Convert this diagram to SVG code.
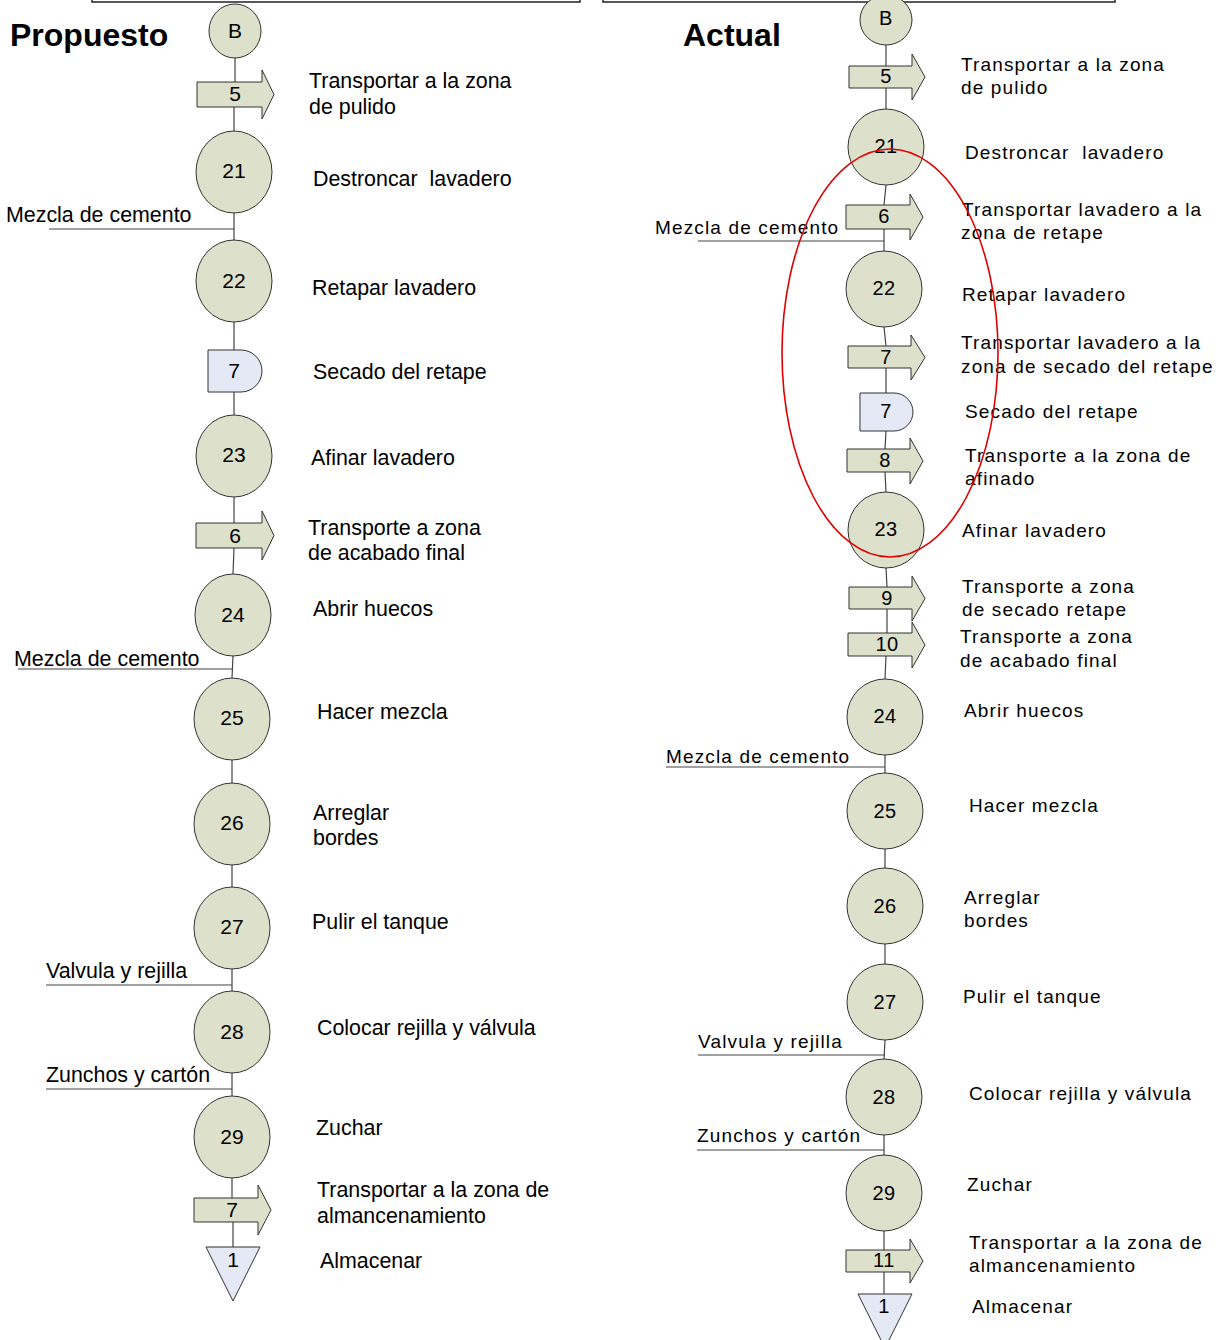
<svg xmlns="http://www.w3.org/2000/svg" width="1227" height="1340" viewBox="0 0 1227 1340">
<style>
.bg{fill:#fff}
.frame{fill:none;stroke:#222;stroke-width:1.5}
.op{fill:#dde0ca;stroke:#333;stroke-width:1}
.dl{fill:#e4e9f5;stroke:#333;stroke-width:1}
.con{fill:none;stroke:#444;stroke-width:1.2}
.num{font-family:"Liberation Sans",Arial,sans-serif;font-size:21px;fill:#000;text-anchor:middle}
.numR{font-family:"Liberation Sans",Arial,sans-serif;font-size:20px;fill:#000;text-anchor:middle;letter-spacing:0.5px}
.tL{font-family:"Liberation Sans",Arial,sans-serif;font-size:21.4px;fill:#000}
.tR{font-family:"Liberation Sans",Arial,sans-serif;font-size:19px;fill:#000;letter-spacing:1.15px}
.title{font-family:"Liberation Sans",Arial,sans-serif;font-size:32px;font-weight:bold;fill:#000}
.red{fill:none;stroke:#e00000;stroke-width:1.6}
</style>
<rect class="bg" x="0" y="0" width="1227" height="1340"/>
<rect class="frame" x="92" y="-10" width="488" height="12"/>
<rect class="frame" x="603" y="-10" width="512" height="12"/>
<text class="title" x="10" y="46">Propuesto</text>
<text class="title" x="683" y="46">Actual</text>

<g id="connectors">
<path class="con" d="M235,58 V82 M234,107 V131 M234,213 V241 M234,322 V350 M234,392 V415 M234,497 V523 M234,548 L233,574 M233,656 L232,678 M232,760 V783 M232,865 V887 M232,969 V991 M232,1073 V1096 M232,1178 V1198 M233,1222 V1247"/>
<path class="con" d="M49,229 H234 M18,669 H233 M46,985 H232 M46,1089 H232"/>
<path class="con" d="M886,45 V66 M886,88 V109 M886,185 L884,205 M884,229 V251 M884,327 L886,346 M886,368 V393 M886,431 L885,449 M885,472 L886,492 M886,568 L887,587 M887,609 V633 M886,656 L885,679 M885,755 V773 M885,849 V868 M885,944 V964 M885,1040 L884,1059 M884,1135 V1155 M884,1231 V1250 M884,1272 V1294"/>
<path class="con" d="M698,241 H884 M666,767 H885 M698,1055 H885 M697,1150 H884"/>
</g>

<g id="propuesto">
<g id="pB"><ellipse class="op" cx="235" cy="31" rx="26" ry="27"/><text class="num" x="235" y="38">B</text></g>
<g id="p5"><path class="op" d="M197,82 H262 V70 L274,94.5 L262,119 V107 H197 Z"/><text class="num" x="235" y="101">5</text></g>
<g id="p21"><ellipse class="op" cx="234" cy="172" rx="38" ry="41"/><text class="num" x="234" y="178">21</text></g>
<g id="p22"><ellipse class="op" cx="234" cy="281" rx="38" ry="41"/><text class="num" x="234" y="288">22</text></g>
<g id="p7d"><path class="dl" d="M208,350 H241 A21,21 0 0 1 241,392 H208 Z"/><text class="num" x="234" y="378">7</text></g>
<g id="p23"><ellipse class="op" cx="234" cy="456" rx="38" ry="41"/><text class="num" x="234" y="462">23</text></g>
<g id="p6"><path class="op" d="M196,523 H262 V511 L274,535.5 L262,560 V548 H196 Z"/><text class="num" x="235" y="543">6</text></g>
<g id="p24"><ellipse class="op" cx="233" cy="615" rx="38" ry="41"/><text class="num" x="233" y="622">24</text></g>
<g id="p25"><ellipse class="op" cx="232" cy="719" rx="38" ry="41"/><text class="num" x="232" y="725">25</text></g>
<g id="p26"><ellipse class="op" cx="232" cy="824" rx="38" ry="41"/><text class="num" x="232" y="830">26</text></g>
<g id="p27"><ellipse class="op" cx="232" cy="928" rx="38" ry="41"/><text class="num" x="232" y="934">27</text></g>
<g id="p28"><ellipse class="op" cx="232" cy="1032" rx="38" ry="41"/><text class="num" x="232" y="1039">28</text></g>
<g id="p29"><ellipse class="op" cx="232" cy="1137" rx="38" ry="41"/><text class="num" x="232" y="1144">29</text></g>
<g id="p7"><path class="op" d="M194,1198 H258 V1185 L271,1210 L258,1235 V1222 H194 Z"/><text class="num" x="232" y="1217">7</text></g>
<g id="p1"><path class="dl" d="M206,1247 H260 L233,1301 Z"/><text class="num" x="233" y="1267">1</text></g>

<text class="tL" x="309" y="88">Transportar a la zona</text>
<text class="tL" x="309" y="114">de pulido</text>
<text class="tL" x="313" y="186" xml:space="preserve">Destroncar  lavadero</text>
<text class="tL" x="6" y="222">Mezcla de cemento</text>
<text class="tL" x="312" y="295">Retapar lavadero</text>
<text class="tL" x="313" y="379">Secado del retape</text>
<text class="tL" x="311" y="465">Afinar lavadero</text>
<text class="tL" x="308" y="535">Transporte a zona</text>
<text class="tL" x="308" y="560">de acabado final</text>
<text class="tL" x="313" y="616">Abrir huecos</text>
<text class="tL" x="14" y="666">Mezcla de cemento</text>
<text class="tL" x="317" y="719">Hacer mezcla</text>
<text class="tL" x="313" y="820">Arreglar</text>
<text class="tL" x="313" y="845">bordes</text>
<text class="tL" x="312" y="929">Pulir el tanque</text>
<text class="tL" x="46" y="978">Valvula y rejilla</text>
<text class="tL" x="317" y="1035">Colocar rejilla y válvula</text>
<text class="tL" x="46" y="1082">Zunchos y cartón</text>
<text class="tL" x="316" y="1135">Zuchar</text>
<text class="tL" x="317" y="1197">Transportar a la zona de</text>
<text class="tL" x="317" y="1223">almancenamiento</text>
<text class="tL" x="320" y="1268">Almacenar</text>
</g>

<g id="actual">
<g id="aB"><ellipse class="op" cx="886" cy="20" rx="26" ry="25"/><text class="numR" x="886" y="25">B</text></g>
<g id="a5"><path class="op" d="M849,66 H912 V54 L925,77 L912,100 V88 H849 Z"/><text class="numR" x="886" y="83">5</text></g>
<g id="a21"><ellipse class="op" cx="886" cy="147" rx="38" ry="38"/><text class="numR" x="886" y="153">21</text></g>
<g id="a6"><path class="op" d="M846,205 H910 V194 L923,217 L910,240 V229 H846 Z"/><text class="numR" x="884" y="223">6</text></g>
<g id="a22"><ellipse class="op" cx="884" cy="289" rx="38" ry="38"/><text class="numR" x="884" y="295">22</text></g>
<g id="a7"><path class="op" d="M848,346 H911 V335 L925,357.5 L911,380 V368 H848 Z"/><text class="numR" x="886" y="364">7</text></g>
<g id="a7d"><path class="dl" d="M860,393 H894 A19,19 0 0 1 894,431 H860 Z"/><text class="numR" x="886" y="418">7</text></g>
<g id="a8"><path class="op" d="M847,449 H910 V438 L923,461 L910,484 V472 H847 Z"/><text class="numR" x="885" y="467">8</text></g>
<g id="a23"><ellipse class="op" cx="886" cy="530" rx="38" ry="38"/><text class="numR" x="886" y="536">23</text></g>
<g id="a9"><path class="op" d="M849,587 H912 V576 L925,598.5 L912,621 V609 H849 Z"/><text class="numR" x="887" y="605">9</text></g>
<g id="a10"><path class="op" d="M848,633 H912 V622 L925,645 L912,668 V656 H848 Z"/><text class="numR" x="887" y="651">10</text></g>
<g id="a24"><ellipse class="op" cx="885" cy="717" rx="38" ry="38"/><text class="numR" x="885" y="723">24</text></g>
<g id="a25"><ellipse class="op" cx="885" cy="811" rx="38" ry="38"/><text class="numR" x="885" y="818">25</text></g>
<g id="a26"><ellipse class="op" cx="885" cy="906" rx="38" ry="38"/><text class="numR" x="885" y="913">26</text></g>
<g id="a27"><ellipse class="op" cx="885" cy="1002" rx="38" ry="38"/><text class="numR" x="885" y="1009">27</text></g>
<g id="a28"><ellipse class="op" cx="884" cy="1097" rx="38" ry="38"/><text class="numR" x="884" y="1104">28</text></g>
<g id="a29"><ellipse class="op" cx="884" cy="1193" rx="38" ry="38"/><text class="numR" x="884" y="1200">29</text></g>
<g id="a11"><path class="op" d="M846,1250 H910 V1239 L923,1261 L910,1283 V1272 H846 Z"/><text class="numR" x="884" y="1267">11</text></g>
<g id="a1"><path class="dl" d="M858,1294 H912 L885,1348 Z"/><text class="numR" x="884" y="1313">1</text></g>

<text class="tR" x="961" y="71">Transportar a la zona</text>
<text class="tR" x="961" y="94">de pulido</text>
<text class="tR" x="965" y="159" xml:space="preserve">Destroncar  lavadero</text>
<text class="tR" x="962" y="216">Transportar lavadero a la</text>
<text class="tR" x="961" y="239">zona de retape</text>
<text class="tR" x="655" y="234">Mezcla de cemento</text>
<text class="tR" x="962" y="301">Retapar lavadero</text>
<text class="tR" x="961" y="349">Transportar lavadero a la</text>
<text class="tR" x="961" y="373">zona de secado del retape</text>
<text class="tR" x="965" y="418">Secado del retape</text>
<text class="tR" x="965" y="462">Transporte a la zona de</text>
<text class="tR" x="965" y="485">afinado</text>
<text class="tR" x="962" y="537">Afinar lavadero</text>
<text class="tR" x="962" y="593">Transporte a zona</text>
<text class="tR" x="962" y="616">de secado retape</text>
<text class="tR" x="960" y="643">Transporte a zona</text>
<text class="tR" x="960" y="667">de acabado final</text>
<text class="tR" x="964" y="717">Abrir huecos</text>
<text class="tR" x="666" y="763">Mezcla de cemento</text>
<text class="tR" x="969" y="812">Hacer mezcla</text>
<text class="tR" x="964" y="904">Arreglar</text>
<text class="tR" x="964" y="927">bordes</text>
<text class="tR" x="963" y="1003">Pulir el tanque</text>
<text class="tR" x="698" y="1048">Valvula y rejilla</text>
<text class="tR" x="969" y="1100">Colocar rejilla y válvula</text>
<text class="tR" x="697" y="1142">Zunchos y cartón</text>
<text class="tR" x="967" y="1191">Zuchar</text>
<text class="tR" x="969" y="1249">Transportar a la zona de</text>
<text class="tR" x="969" y="1272">almancenamiento</text>
<text class="tR" x="972" y="1313">Almacenar</text>
</g>

<ellipse class="red" cx="890" cy="353" rx="108" ry="204"/>
</svg>
